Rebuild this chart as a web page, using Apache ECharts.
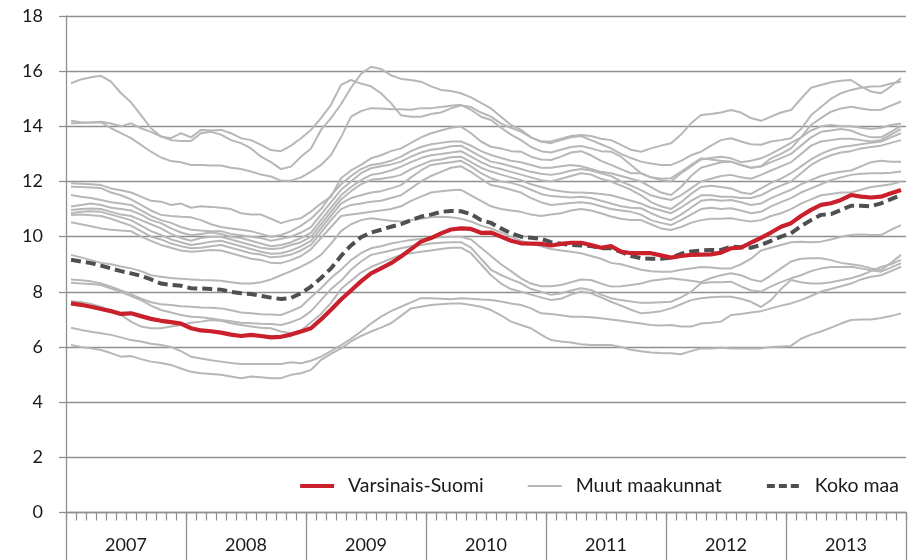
<!DOCTYPE html>
<html><head><meta charset="utf-8">
<script src="https://cdn.jsdelivr.net/npm/echarts@6/dist/echarts.min.js"></script>
<style>html,body{margin:0;padding:0;background:#fff}#c{width:914px;height:560px}</style>
</head><body><div id="c"></div>
<script>
const years = ['2007','2008','2009','2010','2011','2012','2013'];
const monthNums = ['01','02','03','04','05','06','07','08','09','10','11','12'];
const months = years.flatMap(y => monthNums.map(m => y + '-' + m));
const yTicks = [0, 18, 2]; // min, max, interval

const varsinaisSuomi = [
7.58,7.53,7.46,7.38,7.30,7.20,7.22,7.12,7.02,6.95,6.90,6.85,
6.68,6.60,6.57,6.52,6.45,6.40,6.44,6.40,6.35,6.37,6.45,6.56,
6.68,7.00,7.35,7.72,8.05,8.38,8.67,8.85,9.04,9.28,9.55,9.82,
9.95,10.12,10.26,10.30,10.28,10.14,10.15,10.00,9.85,9.76,9.75,9.74,
9.68,9.74,9.78,9.78,9.70,9.60,9.66,9.46,9.40,9.40,9.40,9.32,
9.24,9.30,9.34,9.35,9.36,9.42,9.58,9.60,9.78,9.96,10.15,10.36,
10.49,10.75,10.97,11.15,11.21,11.33,11.51,11.45,11.42,11.45,11.57,11.69];

const kokoMaa = [
9.16,9.10,9.04,8.95,8.85,8.75,8.67,8.58,8.45,8.30,8.25,8.22,
8.13,8.12,8.10,8.08,8.00,7.95,7.92,7.85,7.79,7.74,7.78,7.95,
8.19,8.50,8.85,9.30,9.68,9.98,10.15,10.25,10.36,10.45,10.60,10.73,
10.80,10.90,10.93,10.92,10.82,10.60,10.50,10.30,10.12,10.00,9.96,9.92,
9.80,9.74,9.70,9.68,9.66,9.58,9.58,9.45,9.30,9.22,9.20,9.20,
9.24,9.38,9.46,9.50,9.52,9.52,9.64,9.62,9.60,9.70,9.85,10.00,
10.12,10.38,10.60,10.79,10.82,10.97,11.12,11.12,11.10,11.21,11.36,11.51];

const g01 = [
15.56,15.70,15.78,15.83,15.62,15.20,14.87,14.41,13.93,13.63,13.57,13.75,
13.60,13.87,13.85,13.87,13.75,13.57,13.50,13.33,13.14,13.10,13.30,13.57,
13.87,14.30,14.78,15.50,15.68,15.55,15.45,15.20,14.84,14.40,14.35,14.35,
14.45,14.50,14.65,14.76,14.70,14.50,14.35,14.10,13.95,13.81,13.60,13.45,
13.39,13.50,13.60,13.65,13.50,13.35,13.20,13.00,12.85,12.72,12.65,12.60,
12.60,12.75,12.95,13.08,13.30,13.50,13.57,13.45,13.35,13.33,13.45,13.50,
13.57,13.90,14.40,14.70,15.00,15.20,15.32,15.40,15.44,15.45,15.55,15.62];
const g02 = [
14.20,14.15,14.14,14.17,14.10,14.00,14.11,13.93,13.80,13.63,13.50,13.47,
13.47,13.75,13.80,13.70,13.50,13.39,13.20,12.90,12.70,12.45,12.54,12.90,
13.20,13.87,14.30,14.80,15.40,15.90,16.16,16.08,15.85,15.72,15.68,15.62,
15.45,15.32,15.28,15.20,15.05,14.85,14.65,14.35,14.05,13.87,13.60,13.45,
13.45,13.55,13.65,13.69,13.65,13.55,13.50,13.33,13.15,13.08,13.20,13.30,
13.39,13.70,14.11,14.41,14.45,14.50,14.59,14.50,14.30,14.20,14.35,14.50,
14.59,15.00,15.40,15.50,15.60,15.65,15.68,15.45,15.26,15.20,15.45,15.74];
const g03 = [
14.11,14.12,14.14,14.15,13.93,13.75,13.57,13.33,13.08,12.87,12.74,12.70,
12.60,12.60,12.58,12.58,12.50,12.45,12.36,12.25,12.18,12.03,12.03,12.15,
12.36,12.60,12.96,13.60,14.35,14.55,14.66,14.65,14.62,14.62,14.60,14.66,
14.66,14.70,14.75,14.78,14.60,14.35,14.23,13.95,13.70,13.50,13.25,13.10,
13.05,13.15,13.25,13.29,13.20,13.10,13.08,12.90,12.60,12.30,12.15,12.10,
12.12,12.35,12.60,12.84,12.80,12.75,12.72,12.60,12.50,12.55,12.84,13.00,
13.20,13.60,14.05,14.30,14.53,14.65,14.71,14.65,14.59,14.60,14.75,14.90];
const g04 = [
11.94,11.92,11.90,11.87,11.75,11.68,11.60,11.45,11.30,11.27,11.15,11.20,
11.05,11.10,11.08,11.05,11.00,10.85,10.80,10.80,10.65,10.49,10.60,10.67,
10.91,11.20,11.45,12.12,12.40,12.60,12.84,12.95,13.10,13.20,13.40,13.60,
13.75,13.85,13.95,13.99,13.75,13.45,13.26,13.20,13.10,13.08,12.90,12.80,
12.78,12.90,13.05,13.10,12.95,12.75,12.60,12.45,12.30,12.30,12.15,12.05,
12.00,12.30,12.55,12.80,12.85,12.90,12.84,12.70,12.75,12.84,13.00,13.20,
13.40,13.60,13.85,14.00,14.05,14.00,14.00,13.95,13.90,13.95,14.05,14.10];
const g05 = [
11.81,11.80,11.78,11.76,11.60,11.50,11.35,11.15,10.95,10.79,10.75,10.72,
10.70,10.60,10.45,10.35,10.30,10.25,10.20,10.10,10.00,10.06,10.20,10.40,
10.65,11.00,11.50,11.90,12.20,12.45,12.60,12.65,12.75,12.90,13.10,13.25,
13.35,13.40,13.45,13.45,13.30,13.10,12.96,12.85,12.75,12.70,12.60,12.50,
12.50,12.55,12.60,12.55,12.45,12.35,12.30,12.20,12.10,12.00,11.80,11.60,
11.51,11.80,12.20,12.50,12.60,12.70,12.72,12.60,12.50,12.54,12.70,12.85,
13.00,13.30,13.60,13.80,13.85,13.90,13.85,13.70,13.60,13.60,13.80,14.02];
const g06 = [
11.51,11.45,11.40,11.33,11.25,11.20,11.15,10.95,10.75,10.60,10.50,10.35,
10.25,10.22,10.20,10.20,10.10,10.05,10.00,9.95,9.85,9.92,10.00,10.15,
10.35,10.80,11.25,11.70,12.00,12.30,12.48,12.55,12.62,12.72,12.90,13.05,
13.15,13.20,13.28,13.30,13.10,12.90,12.72,12.65,12.55,12.45,12.35,12.28,
12.24,12.30,12.40,12.45,12.40,12.30,12.20,12.00,11.85,11.69,11.50,11.40,
11.33,11.50,11.75,12.00,12.10,12.20,12.24,12.15,12.10,12.24,12.40,12.55,
12.70,13.00,13.30,13.45,13.50,13.55,13.55,13.50,13.45,13.50,13.70,13.90];
const g07 = [
11.09,11.15,11.20,11.15,11.05,11.00,10.95,10.80,10.60,10.49,10.30,10.15,
10.05,10.10,10.15,10.10,10.00,9.95,9.85,9.75,9.65,9.70,9.80,9.95,
10.15,10.60,11.05,11.50,11.80,12.05,12.24,12.30,12.40,12.54,12.70,12.85,
12.95,13.00,13.05,13.10,12.90,12.70,12.54,12.45,12.35,12.25,12.15,12.05,
12.00,12.10,12.20,12.30,12.25,12.10,12.00,11.85,11.70,11.50,11.25,11.10,
11.00,11.25,11.55,11.80,11.85,11.80,11.75,11.60,11.55,11.75,11.95,12.10,
12.30,12.55,12.80,13.00,13.15,13.25,13.30,13.35,13.40,13.45,13.60,13.75];
const g08 = [
10.97,11.00,11.02,11.00,10.90,10.80,10.75,10.60,10.45,10.30,10.10,9.95,
9.85,9.95,10.00,10.00,9.90,9.80,9.70,9.60,9.55,9.58,9.70,9.80,
10.00,10.45,10.90,11.35,11.65,11.90,12.06,12.10,12.15,12.24,12.45,12.60,
12.75,12.80,12.88,12.90,12.70,12.50,12.36,12.25,12.15,12.05,11.90,11.80,
11.70,11.65,11.60,11.60,11.58,11.55,11.50,11.40,11.30,11.20,11.05,10.95,
10.85,11.05,11.30,11.50,11.50,11.45,11.45,11.40,11.40,11.50,11.70,11.85,
12.00,12.30,12.60,12.80,12.95,13.05,13.10,13.20,13.25,13.30,13.40,13.50];
const g09 = [
10.85,10.90,10.92,10.90,10.80,10.70,10.60,10.40,10.20,10.06,9.90,9.80,
9.70,9.75,9.82,9.85,9.75,9.65,9.55,9.45,9.38,9.40,9.50,9.65,
9.85,10.30,10.75,11.20,11.40,11.50,11.60,11.65,11.75,11.87,12.15,12.40,
12.60,12.65,12.70,12.75,12.55,12.30,12.12,12.00,11.95,11.85,11.70,11.55,
11.47,11.45,11.42,11.45,11.40,11.30,11.20,11.10,11.05,11.03,10.85,10.70,
10.60,10.80,11.05,11.30,11.35,11.30,11.33,11.25,11.15,11.20,11.40,11.55,
11.70,11.90,12.05,12.20,12.30,12.35,12.40,12.55,12.70,12.75,12.72,12.72];
const g10 = [
10.79,10.80,10.78,10.75,10.65,10.52,10.40,10.20,10.00,9.90,9.75,9.65,
9.58,9.60,9.65,9.70,9.60,9.50,9.40,9.35,9.25,9.28,9.35,9.50,
9.70,10.15,10.60,11.00,11.15,11.20,11.27,11.30,11.40,11.50,11.75,12.00,
12.20,12.35,12.50,12.55,12.35,12.10,11.87,11.80,11.70,11.60,11.40,11.25,
11.15,11.18,11.22,11.25,11.20,11.10,11.00,10.95,10.90,10.80,10.60,10.50,
10.42,10.60,10.80,11.00,11.05,11.00,11.03,10.95,10.85,10.90,11.10,11.25,
11.40,11.60,11.75,11.90,12.05,12.15,12.24,12.28,12.30,12.30,12.32,12.36];
const g11 = [
10.52,10.45,10.38,10.30,10.25,10.22,10.20,10.00,9.85,9.70,9.60,9.50,
9.45,9.48,9.52,9.50,9.40,9.30,9.20,9.15,9.05,9.04,9.15,9.30,
9.55,9.95,10.35,10.75,10.80,10.85,10.90,10.95,11.00,11.10,11.30,11.45,
11.60,11.65,11.68,11.70,11.50,11.30,11.10,11.00,10.95,10.90,10.80,10.75,
10.80,10.85,10.95,11.00,10.95,10.85,10.73,10.65,10.60,10.60,10.45,10.30,
10.24,10.35,10.50,10.60,10.65,10.65,10.67,10.60,10.55,10.60,10.75,10.85,
11.00,11.20,11.35,11.50,11.55,11.60,11.60,11.70,11.80,11.85,11.90,12.00];
const g12 = [
9.34,9.25,9.15,9.05,9.00,8.92,8.85,8.75,8.60,8.55,8.50,8.47,
8.45,8.43,8.42,8.40,8.35,8.30,8.30,8.35,8.45,8.60,8.75,8.91,
9.10,9.34,9.75,10.20,10.45,10.60,10.67,10.62,10.58,10.55,10.60,10.65,
10.70,10.72,10.70,10.65,10.55,10.40,10.30,10.15,10.00,9.85,9.75,9.65,
9.55,9.50,9.45,9.40,9.30,9.20,9.05,9.00,8.90,8.80,8.75,8.73,
8.73,8.80,8.85,8.90,8.88,8.85,8.85,9.00,9.20,9.50,9.60,9.70,
9.80,9.82,9.80,9.82,9.90,10.00,10.06,10.08,10.06,10.06,10.25,10.42];
const g13 = [
8.45,8.42,8.38,8.30,8.19,8.05,7.92,7.75,7.62,7.55,7.52,7.48,
7.46,7.43,7.42,7.40,7.33,7.25,7.22,7.19,7.18,7.16,7.30,7.46,
7.80,8.13,8.50,8.80,9.15,9.40,9.58,9.65,9.75,9.82,9.88,9.92,
9.95,9.98,10.00,10.00,9.90,9.60,9.30,9.00,8.75,8.49,8.30,8.20,
8.20,8.25,8.35,8.45,8.43,8.30,8.19,8.20,8.25,8.30,8.40,8.45,
8.49,8.45,8.40,8.35,8.50,8.60,8.67,8.60,8.45,8.37,8.60,8.85,
9.10,9.20,9.22,9.22,9.15,9.05,9.00,8.95,8.85,8.79,9.05,9.34];
const g14 = [
8.33,8.30,8.28,8.25,8.12,8.00,7.85,7.70,7.50,7.34,7.25,7.16,
7.10,7.08,7.03,6.98,6.93,6.88,6.86,6.84,6.83,6.80,6.90,7.04,
7.30,7.70,8.10,8.40,8.80,9.10,9.34,9.42,9.50,9.58,9.65,9.70,
9.75,9.78,9.80,9.80,9.60,9.20,8.80,8.61,8.45,8.31,8.10,8.00,
7.89,7.95,8.05,8.13,8.07,7.90,7.77,7.70,7.65,7.60,7.60,7.62,
7.64,7.80,8.00,8.31,8.35,8.35,8.37,8.20,8.05,8.01,8.20,8.35,
8.49,8.60,8.75,8.85,8.90,8.90,8.91,8.85,8.78,8.73,8.88,9.04];
const g15 = [
7.66,7.63,7.56,7.46,7.30,7.16,6.92,6.74,6.68,6.68,6.74,6.80,
6.88,6.92,6.98,6.95,6.86,6.80,6.74,6.70,6.68,6.56,6.50,6.60,
6.90,7.20,7.60,8.10,8.40,8.70,8.90,9.05,9.20,9.34,9.40,9.45,
9.50,9.55,9.60,9.60,9.40,9.00,8.60,8.30,8.10,8.00,7.90,7.80,
7.70,7.75,7.90,8.01,7.95,7.80,7.64,7.50,7.35,7.22,7.25,7.30,
7.40,7.55,7.70,7.77,7.80,7.82,7.82,7.75,7.64,7.45,7.70,8.10,
8.43,8.35,8.30,8.30,8.35,8.42,8.49,8.60,8.75,8.90,9.00,9.16];
const g16 = [
6.70,6.62,6.55,6.50,6.44,6.35,6.25,6.20,6.12,6.07,6.00,5.85,
5.65,5.58,5.52,5.47,5.42,5.38,5.38,5.38,5.38,5.38,5.45,5.41,
5.50,5.65,5.85,6.07,6.30,6.56,6.85,7.10,7.30,7.46,7.62,7.77,
7.77,7.75,7.73,7.77,7.75,7.72,7.70,7.65,7.58,7.52,7.40,7.22,
7.20,7.15,7.10,7.10,7.08,7.04,7.00,6.95,6.90,6.85,6.80,6.78,
6.80,6.74,6.74,6.85,6.88,6.92,7.16,7.20,7.25,7.30,7.40,7.50,
7.58,7.70,7.85,8.01,8.10,8.20,8.30,8.45,8.55,8.60,8.75,8.91];
const g17 = [
6.07,6.00,5.95,5.89,5.78,5.65,5.67,5.56,5.47,5.42,5.35,5.22,
5.10,5.05,5.02,4.99,4.93,4.87,4.93,4.90,4.87,4.87,4.99,5.05,
5.17,5.53,5.75,5.95,6.20,6.40,6.56,6.70,6.86,7.13,7.40,7.46,
7.52,7.55,7.58,7.58,7.52,7.46,7.34,7.15,6.92,6.80,6.68,6.45,
6.25,6.20,6.16,6.10,6.07,6.07,6.07,6.00,5.90,5.85,5.80,5.78,
5.77,5.74,5.85,5.95,5.95,5.97,5.95,5.95,5.95,5.95,6.00,6.02,
6.04,6.30,6.45,6.56,6.70,6.85,6.98,7.00,7.00,7.05,7.12,7.22];

const otherRegions = [g01,g02,g03,g04,g05,g06,g07,g08,g09,g10,g11,g12,g13,g14,g15,g16,g17];
const names = ['Varsinais-Suomi', 'Muut maakunnat', 'Koko maa'];

const GRID = '#8f8f8f', GRAY = '#b7b7b7', RED = '#c9202c', DARK = '#4d4f50', TXT = '#1a1a1a';
const FONT = 'Lato';

const series = [];
otherRegions.forEach(d => series.push({
  name: names[1], type: 'line', data: d, symbol: 'none', silent: true, z: 2,
  lineStyle: { color: GRAY, width: 2 }, itemStyle: { color: GRAY }
}));
series.push({
  name: names[2], type: 'line', data: kokoMaa, symbol: 'none', z: 3,
  lineStyle: { color: DARK, width: 4, type: [10, 5] }, itemStyle: { color: DARK }
});
series.push({
  name: names[0], type: 'line', data: varsinaisSuomi, symbol: 'none', z: 4,
  lineStyle: { color: RED, width: 4.2 }, itemStyle: { color: RED }
});

const chart = echarts.init(document.getElementById('c'), null, { renderer: 'canvas' });
chart.setOption({
  animation: false,
  backgroundColor: '#fff',
  grid: { left: 66, right: 8, top: 16, bottom: 47.5, containLabel: false },
  legend: {
    data: [
      { name: names[0], lineStyle: { width: 4.2, color: RED } },
      { name: names[1], lineStyle: { width: 2, color: GRAY } },
      { name: names[2], lineStyle: { width: 4, color: DARK, type: [8, 4] } }
    ],
    left: 298, top: 476, padding: 0, itemWidth: 34, itemHeight: 16, itemGap: 43,
    itemStyle: { opacity: 0 },
    textStyle: { fontFamily: FONT, fontSize: 19.5, color: TXT, padding: [0, 0, 0, 9] },
    selectedMode: false
  },
  xAxis: [{
    type: 'category', data: months, boundaryGap: true, position: 'bottom',
    axisLine: { show: true, lineStyle: { color: GRID, width: 1.3 } },
    axisTick: { show: true, interval: 0, length: 8, lineStyle: { color: GRID, width: 1.2 } },
    axisLabel: { show: false }, splitLine: { show: false }
  }, {
    type: 'category', data: years, boundaryGap: true, position: 'bottom', offset: 0,
    axisLine: { show: false },
    axisTick: { show: true, interval: 0, length: 48, lineStyle: { color: GRID, width: 1.3 } },
    axisLabel: { show: true, interval: 0, margin: 24, fontFamily: FONT, fontSize: 18, color: TXT },
    splitLine: { show: false }
  }],
  yAxis: {
    type: 'value', min: yTicks[0], max: yTicks[1], interval: yTicks[2],
    axisLine: { show: true, lineStyle: { color: GRID, width: 1.3 } },
    axisTick: { show: true, length: 7, lineStyle: { color: GRID, width: 1.3 } },
    axisLabel: { margin: 23, fontFamily: FONT, fontSize: 18, color: TXT },
    splitLine: { show: true, lineStyle: { color: GRID, width: 1.3 } }
  },
  series: series
});
</script></body></html>
